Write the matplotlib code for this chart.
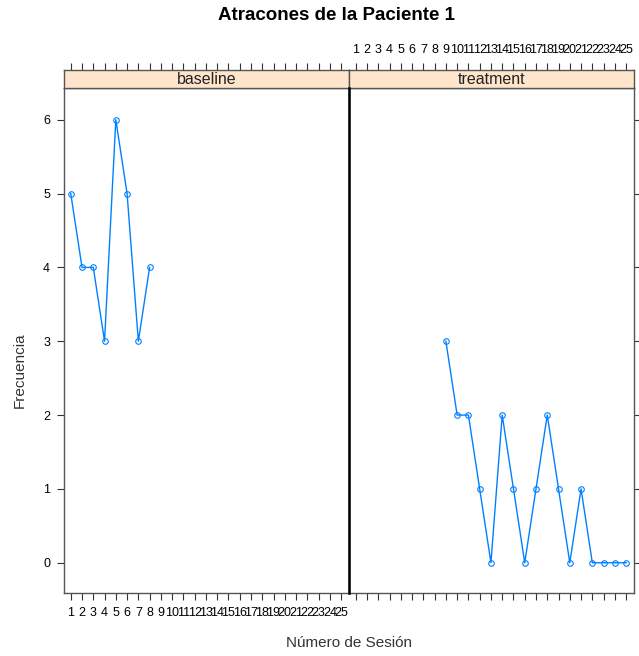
import matplotlib
matplotlib.use("Agg")
import matplotlib.pyplot as plt

plt.rcParams['font.family'] = ['Liberation Sans', 'DejaVu Sans']

sesion_base = [1, 2, 3, 4, 5, 6, 7, 8]
frec_base = [5, 4, 4, 3, 6, 5, 3, 4]
sesion_trat = [9, 10, 11, 12, 13, 14, 15, 16, 17, 18, 19, 20, 21, 22, 23, 24, 25]
frec_trat = [3, 2, 2, 1, 0, 2, 1, 0, 1, 2, 1, 0, 1, 0, 0, 0, 0]
paneles = ["baseline", "treatment"]
ticks_x = list(range(1, 26))
ticks_y = [0, 1, 2, 3, 4, 5, 6]

W, H = 639, 656
fig = plt.figure(figsize=(W / 100, H / 100), dpi=100)

frame_col = "#555555"
line_col = "#0080ff"
strip_col = "#ffe5cc"

x_edges = [(64, 349), (349, 634)]
py_top, py_bot = 88, 593
sy_top = 70

datos = [(sesion_base, frec_base), (sesion_trat, frec_trat)]

for i, (x0, x1) in enumerate(x_edges):
    ax = fig.add_axes([x0 / W, 1 - py_bot / H, (x1 - x0) / W, (py_bot - py_top) / H])
    st = fig.add_axes([x0 / W, 1 - py_top / H, (x1 - x0) / W, (py_top - sy_top) / H])
    xs, ys = datos[i]
    ax.plot(xs, ys, color=line_col, lw=1, marker="o", ms=4, mfc="none",
            mec=line_col, mew=0.8)
    ax.set_xlim(0.4, 25.7)
    ax.set_ylim(-0.41, 6.43)
    st.set_xlim(0.4, 25.7)
    st.set_ylim(0, 1)
    st.set_facecolor(strip_col)
    st.text(0.5, 0.45, paneles[i], transform=st.transAxes, ha="center",
            va="center", fontsize=11.5, color="#222222")
    for a in (ax, st):
        for s in a.spines.values():
            s.set_color(frame_col)
            s.set_linewidth(1)
    ax.set_yticks(ticks_y)
    ax.set_xticks(ticks_x)
    st.set_xticks(ticks_x)
    st.set_yticks([])
    ax.tick_params(axis="both", direction="out", length=5, width=0.8,
                   color="#333333", labelsize=9, pad=5)
    st.tick_params(axis="x", direction="out", length=5, width=0.8,
                   color="#333333", labelsize=9, pad=5,
                   top=True, bottom=False, labeltop=(i == 1), labelbottom=False)
    if i == 0:
        ax.tick_params(axis="x", labelbottom=True)
        ax.tick_params(axis="y", left=True, right=False, labelleft=True)
    else:
        ax.tick_params(axis="x", labelbottom=False)
        ax.tick_params(axis="y", left=False, right=True, labelleft=False)

# divisor central entre paneles
fig.add_artist(plt.Line2D([349 / W, 349 / W], [1 - py_bot / H, 1 - py_top / H],
                          color="black", lw=1.8))

fig.text(336 / W, 1 - 15 / H, "Atracones de la Paciente 1", ha="center",
         va="center", fontsize=13.5, fontweight="bold")
fig.text(349 / W, 1 - 643 / H, "Número de Sesión", ha="center", va="center",
         fontsize=11, color="#333333")
fig.text(20 / W, 1 - 370 / H, "Frecuencia", ha="center", va="center",
         rotation=90, fontsize=11, color="#333333")

fig.savefig("out.png", dpi=100)
